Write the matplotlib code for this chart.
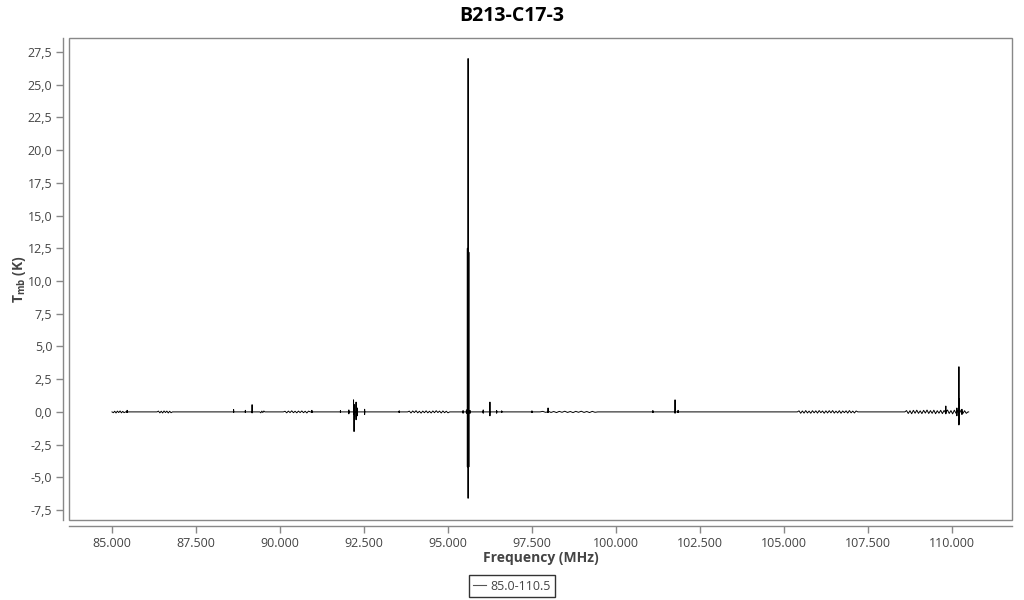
import numpy as np
import matplotlib
matplotlib.use("Agg")
import matplotlib.pyplot as plt
from matplotlib.patches import Rectangle
from matplotlib.ticker import FuncFormatter, MultipleLocator

title = "B213-C17-3"
series_name = "85.0-110.5"
x_label = "Frequency (MHz)"
band_start, band_end = 85.0, 110.5

# emission / absorption spikes: centre frequency (MHz), top and bottom T_mb (K)
spike_freq = [85.45, 88.62, 88.97, 89.17, 90.95, 91.80, 92.05, 92.19, 92.205, 92.22,
              92.265, 92.30, 92.52, 93.55, 95.45, 95.55, 95.578, 95.589, 95.600,
              95.611, 95.622, 95.66, 96.05, 96.25, 96.45, 96.60, 97.50, 97.98,
              101.10, 101.76, 101.85, 109.82, 110.15, 110.21, 110.22, 110.30]
spike_top = [0.12, 0.18, 0.12, 0.55, 0.12, 0.10, 0.15, 0.92, 0.30, 0.55,
             0.75, 0.30, 0.20, 0.08, 0.10, 0.15, 12.5, 12.4, 27.0,
             12.3, 12.2, 0.10, 0.15, 0.75, 0.10, 0.08, 0.08, 0.30,
             0.10, 0.92, 0.12, 0.45, 0.30, 3.45, 1.00, 0.20]
spike_bottom = [-0.05, -0.05, -0.05, -0.08, -0.05, -0.05, -0.15, -0.20, -1.50, -0.40,
                -0.60, -0.30, -0.20, -0.05, -0.10, -0.10, -4.2, -4.0, -6.6,
                -4.1, -4.2, -0.10, -0.10, -0.30, -0.10, -0.05, -0.05, -0.05,
                -0.05, -0.10, -0.05, -0.15, -0.30, -1.00, -0.90, -0.20]

# noisy stretches of channels: start / end frequency (MHz) and T_mb values along them
noise_start = [85.00, 86.34, 89.40, 90.10, 93.80, 97.74, 105.40, 108.60]
noise_end = [85.40, 86.80, 89.55, 90.90, 95.05, 99.46, 107.20, 110.48]
noise_vals = [
    [0, -0.06, 0.05, -0.08, 0.06, -0.05, 0.07, -0.07, 0.04, -0.06, 0],
    [0, 0.06, -0.07, 0.05, -0.08, 0.07, -0.05, 0.06, -0.08, 0.05, -0.06, 0],
    [0, -0.07, 0.06, -0.05, 0.07, 0],
    [0, 0.05, -0.07, 0.06, -0.05, 0.08, -0.06, 0.05, -0.07, 0.06, -0.05, 0.07,
     -0.06, 0.05, -0.08, 0.06, 0],
    [0, 0.06, -0.08, 0.07, -0.05, 0.09, -0.07, 0.05, -0.09, 0.06, -0.06, 0.08, -0.07,
     0.05, -0.08, 0.07, -0.06, 0.09, -0.05, 0.06, -0.08, 0.07, -0.06, 0.05, -0.07, 0],
    [0, 0.04, -0.03, 0.05, -0.04, 0.03, -0.05, 0.04, -0.03, 0.05, -0.04, 0.03,
     -0.05, 0.04, -0.03, 0.05, -0.04, 0.03, -0.05, 0.04, -0.03, 0],
    [0, 0.08, -0.10, 0.07, -0.09, 0.10, -0.08, 0.06, -0.10, 0.09, -0.07, 0.08, -0.09,
     0.10, -0.06, 0.07, -0.10, 0.08, -0.08, 0.09, -0.07, 0.10, -0.09, 0.06, -0.08,
     0.09, -0.10, 0.07, -0.06, 0.08, -0.09, 0.10, -0.07, 0.06, -0.08, 0.07, 0],
    [0, 0.10, -0.12, 0.09, -0.14, 0.12, -0.10, 0.13, -0.11, 0.08, -0.13, 0.12, -0.09,
     0.14, -0.12, 0.10, -0.11, 0.13, -0.14, 0.09, -0.10, 0.12, -0.13, 0.11, -0.09,
     0.14, -0.12, 0.10, -0.15, 0.13, -0.11, 0.12, -0.10, 0.15, -0.12, 0.09, -0.11, 0],
]

# ---- build the plotted series from the values above ----
pts = [(band_start, 0.0), (band_end, 0.0)]
for f, hi, lo in zip(spike_freq, spike_top, spike_bottom):
    pts += [(f - 0.0004, 0.0), (f, hi), (f + 0.00001, lo), (f + 0.0004, 0.0)]
for s, e, vals in zip(noise_start, noise_end, noise_vals):
    for xv, yv in zip(np.linspace(s, e, len(vals)), vals):
        pts.append((xv, yv))
pts.sort(key=lambda p: p[0])
freq = [p[0] for p in pts]
tmb = [p[1] for p in pts]

plt.rcParams['font.family'] = ['Open Sans', 'DejaVu Sans']
plt.rcParams['mathtext.fontset'] = 'custom'
plt.rcParams['mathtext.bf'] = 'Open Sans:bold'
plt.rcParams['mathtext.rm'] = 'Open Sans'

txt = '#444444'
gray = '#888888'

fig = plt.figure(figsize=(10.24, 6.0), dpi=100)
ax = fig.add_axes([69 / 1024, 1 - 520 / 600, (1012 - 69) / 1024, (520 - 38) / 600])

ax.plot(freq, tmb, color='black', lw=0.7, label=series_name)

ax.set_xlim(83.72, 111.79)
ax.set_ylim(-8.26, 28.57)
ax.xaxis.set_major_locator(MultipleLocator(2.5))
ax.yaxis.set_major_locator(MultipleLocator(2.5))
ax.xaxis.set_major_formatter(FuncFormatter(lambda v, p: f"{v:.3f}"))
ax.yaxis.set_major_formatter(FuncFormatter(lambda v, p: f"{v:.1f}".replace('.', ',')))

for side in ['top', 'right']:
    ax.spines[side].set_visible(False)
for side in ['left', 'bottom']:
    ax.spines[side].set_position(('outward', 4))
    ax.spines[side].set_color(gray)
    ax.spines[side].set_linewidth(1.0)
ax.add_patch(Rectangle((0, 0), 1, 1, transform=ax.transAxes, fill=False,
                       edgecolor=gray, lw=1.0, clip_on=False, zorder=5))
ax.tick_params(axis='both', direction='out', length=5, width=1, color=gray,
               labelcolor=txt, labelsize=9, pad=3)

ax.set_xlabel(x_label, fontsize=10, fontweight='bold', color=txt, labelpad=1)
ax.set_ylabel(r'$\mathbf{T}_{\mathbf{mb}}$ (K)', fontsize=10, fontweight='bold',
              color=txt, labelpad=0)
fig.text(0.5, 1 - 16 / 600, title, ha='center', va='center', fontsize=14,
         fontweight='bold', color='black')

leg = fig.legend(loc='center', bbox_to_anchor=(512 / 1024, 1 - 586 / 600),
                 frameon=True, fancybox=False, fontsize=9, handlelength=1.0,
                 handletextpad=0.4, borderpad=0.35, labelcolor=txt)
leg.get_frame().set_edgecolor('black')
leg.get_frame().set_linewidth(1.0)
for h in leg.get_lines():
    h.set_linewidth(0.8)
    h.set_color('#555555')

fig.savefig('out.png', dpi=100)
